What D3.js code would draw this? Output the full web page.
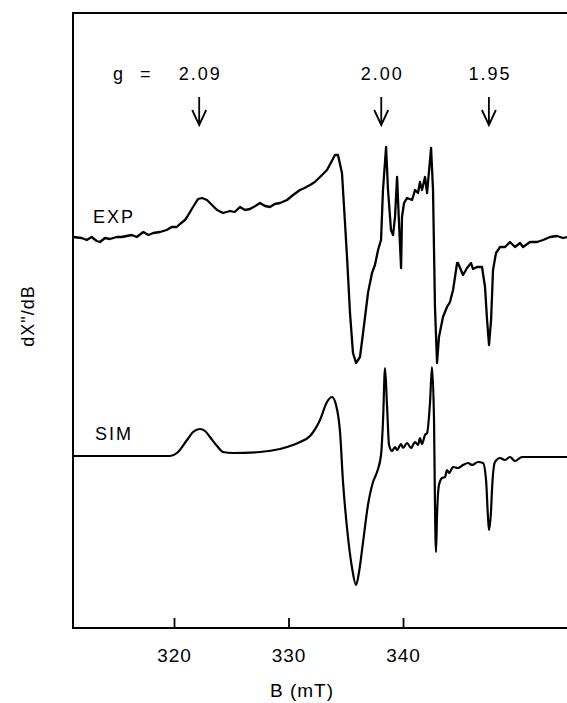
<!DOCTYPE html>
<html>
<head>
<meta charset="utf-8">
<script src="https://cdn.jsdelivr.net/npm/d3@7"></script>
<style>
  html, body { margin: 0; padding: 0; background: #fff; }
  svg { display: block; }
  text { font-family: "Liberation Sans", Arial, Helvetica, sans-serif; fill: #000; }
</style>
</head>
<body>
<svg id="chart" width="567" height="703"></svg>
<script>
// ---- data (B in mT, intensity in arbitrary units) ----
const expB = [311.18,311.94,312.38,312.81,313.25,313.54,313.97,314.41,314.99,315.43,315.87,316.31,316.74,317.32,317.76,318.19,318.78,319.36,319.8,320.24,320.52,320.96,321.14,321.66,322.1,322.45,322.88,323.32,323.76,324.28,324.89,325.3,325.76,326.2,326.64,327.1,327.51,327.95,328.38,328.8,329.26,329.87,330.4,331.0,331.4,331.88,332.3,332.75,333.36,334.06,334.32,334.67,334.85,335.11,335.37,335.63,335.9,336.24,336.51,336.94,337.29,337.55,337.82,338.08,338.25,338.52,338.69,338.95,339.13,339.3,339.48,339.65,339.83,339.91,340.09,340.35,340.79,341.05,341.31,341.48,341.66,341.92,342.1,342.45,342.62,342.79,342.97,343.14,343.49,343.84,344.1,344.37,344.72,344.8,345.24,345.59,345.94,346.11,346.46,346.9,347.16,347.34,347.51,347.69,347.86,348.12,348.47,348.91,349.34,349.78,350.22,350.48,351.09,351.7,352.23,352.84,353.45,353.97,354.32];
const expI = [1,0,-2,1,-3,-4,0,-1,1,1,2,3,1,6,3,5,6,8,11,11,14,18,21,31,39,40,38,33,28,25,27,26,31,28,29,32,35,32,31,34,35,38,43,48,50,53,56,61,68,83,83,65,31,-19,-75,-115,-125,-119,-95,-55,-35,-27,-12,-2,48,91,48,8,3,21,61,15,-30,21,35,40,38,48,45,56,48,61,45,90,48,-69,-125,-99,-79,-69,-64,-52,-25,-25,-37,-30,-25,-31,-29,-29,-49,-82,-107,-82,-32,-15,-9,-9,-4,-9,-5,-9,-4,-4,-2,1,2,0,1];

const simB = [311.18,319.65,320.26,321.14,321.66,322.27,322.71,323.14,323.76,324.28,325.15,327.51,329.26,330.39,331.0,331.88,332.75,333.36,333.8,334.15,334.5,334.76,335.11,335.55,335.9,336.16,336.51,336.94,337.38,337.73,338.08,338.25,338.43,338.6,338.78,339.04,339.3,339.48,339.83,340.0,340.35,340.7,341.05,341.31,341.48,341.66,341.92,342.1,342.36,342.53,342.71,342.79,342.88,342.97,343.14,343.41,343.67,343.84,344.02,344.37,344.8,345.24,345.68,346.03,346.55,346.99,347.25,347.42,347.51,347.69,347.77,348.03,348.47,348.91,349.34,349.78,350.39,354.32];
const simI = [1,1,4,17,25,28,26,20,11,5,4,5,8,12,15,21,37,55,60,52,25,-25,-71,-111,-128,-115,-85,-48,-25,-15,2,35,89,52,12,6,10,7,13,9,14,9,15,12,19,13,22,24,55,90,35,-48,-95,-58,-28,-21,-20,-13,-16,-10,-11,-8,-6,-8,-5,-6,-23,-60,-73,-53,-33,-5,-1,-3,0,-4,0,0];

const traceNames = ["EXP", "SIM"];
const traceOffsets = [390, 171];

const xTicks = [320, 330, 340];
const gLabels = ["2.09", "2.00", "1.95"];
const gArrowB = [322.2, 338.1, 347.5];

// ---- layout ----
const svg = d3.select("#chart");
const mLeft = 73, mRight = 567, mTop = 13, mBottom = 628;

const x = d3.scaleLinear().domain([311.18, 354.32]).range([mLeft, mRight]);
const y = d3.scaleLinear().domain([0, 615]).range([mBottom, mTop]);

// frame
svg.append("path")
  .attr("d", `M${mRight},${mTop}H${mLeft}V${mBottom}H${mRight}`)
  .attr("fill", "none").attr("stroke", "#000").attr("stroke-width", 2);

// x axis
const xAxis = d3.axisBottom(x).tickValues(xTicks).tickSizeInner(-10).tickSizeOuter(0).tickPadding(21);
const gx = svg.append("g").attr("transform", `translate(0,${mBottom})`).call(xAxis);
gx.select(".domain").remove();
gx.selectAll(".tick line").attr("stroke", "#000").attr("stroke-width", 1.8);
gx.selectAll(".tick text").attr("font-size", 19).attr("letter-spacing", 1)
  .style("font-family", '"Liberation Sans", Arial, sans-serif').attr("fill", "#000");

// axis titles
svg.append("text").attr("x", 302).attr("y", 697).attr("text-anchor", "middle")
  .attr("font-size", 19).attr("letter-spacing", 1).text("B (mT)");
svg.append("text").attr("transform", "translate(34,316) rotate(-90)").attr("text-anchor", "middle")
  .attr("font-size", 18).attr("letter-spacing", 1).text("dX\"/dB");

// traces
svg.append("clipPath").attr("id", "plotclip").append("rect")
  .attr("x", mLeft).attr("y", mTop).attr("width", mRight - mLeft).attr("height", mBottom - mTop);

const expData = expB.map((b, i) => [b, expI[i] + traceOffsets[0]]);
const simData = simB.map((b, i) => [b, simI[i] + traceOffsets[1]]);

const lineLinear = d3.line().x(d => x(d[0])).y(d => y(d[1])).curve(d3.curveLinear);
const lineSmooth = d3.line().x(d => x(d[0])).y(d => y(d[1])).curve(d3.curveMonotoneX);

svg.append("path").datum(expData).attr("d", lineLinear)
  .attr("fill", "none").attr("stroke", "#000").attr("stroke-width", 2.3).attr("stroke-linejoin", "round")
  .attr("clip-path", "url(#plotclip)");
svg.append("path").datum(simData).attr("d", lineSmooth)
  .attr("fill", "none").attr("stroke", "#000").attr("stroke-width", 2.2).attr("stroke-linejoin", "round")
  .attr("clip-path", "url(#plotclip)");

// trace labels
svg.append("text").attr("x", 93).attr("y", 223).attr("font-size", 18).attr("letter-spacing", 2).text(traceNames[0]);
svg.append("text").attr("x", 95).attr("y", 440).attr("font-size", 18).attr("letter-spacing", 2).text(traceNames[1]);

// g-value annotations
svg.append("text").attr("x", 113).attr("y", 80).attr("font-size", 18).attr("letter-spacing", 2)
  .attr("word-spacing", 8).text("g =");
const ann = svg.append("g").selectAll("g").data(gLabels).join("g");
ann.append("text").attr("x", (d, i) => x(gArrowB[i]) + 1).attr("y", 80).attr("text-anchor", "middle")
  .attr("font-size", 18).attr("letter-spacing", 2).text(d => d);
ann.append("path")
  .attr("d", (d, i) => { const ax = x(gArrowB[i]); return `M${ax},97V125M${ax - 7},110L${ax},125L${ax + 7},110`; })
  .attr("fill", "none").attr("stroke", "#000").attr("stroke-width", 1.8);
</script>
</body>
</html>
